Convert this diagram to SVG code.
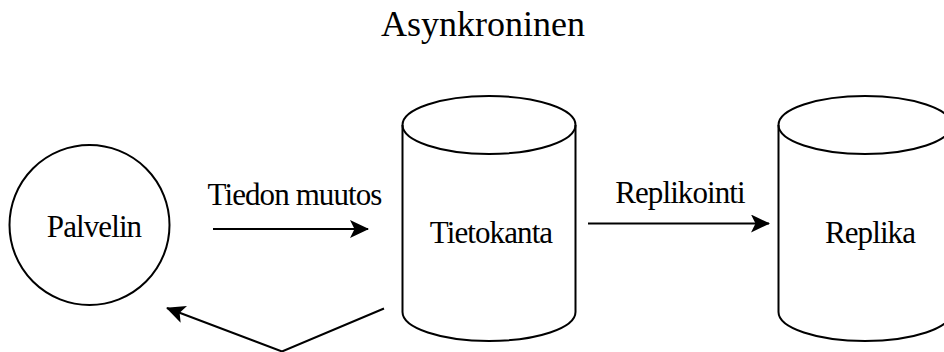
<svg xmlns="http://www.w3.org/2000/svg" width="944" height="352" viewBox="0 0 944 352">
  <style>
    .shape { fill: #ffffff; stroke: #000000; stroke-width: 2; }
    .edge { fill: none; stroke: #000000; stroke-width: 2; }
    .lbl { font-family: "Liberation Serif", "Times New Roman", serif; font-size: 31px; letter-spacing: -0.9px; fill: #000000; }
    .title { font-family: "Liberation Serif", "Times New Roman", serif; font-size: 36px; fill: #000000; }
  </style>
  <defs>
    <marker id="arrow" markerUnits="userSpaceOnUse" viewBox="0 0 19 18" markerWidth="19" markerHeight="18" refX="18" refY="9" orient="auto">
      <path d="M0,0 L19,9 L0,18 L4.5,9 Z" fill="#000000"/>
    </marker>
  </defs>

  <rect width="944" height="352" fill="#ffffff"/>

  <text class="title" x="483" y="36" text-anchor="middle">Asynkroninen</text>

  <g id="palvelin">
    <circle class="shape" cx="89.5" cy="225" r="80"/>
    <text class="lbl" x="94" y="237" text-anchor="middle">Palvelin</text>
  </g>

  <g id="tietokanta">
    <path class="shape" d="M402.5,125 a86.5,29 0 0 1 173,0 v187 a86.5,29 0 0 1 -173,0 Z"/>
    <path class="edge" d="M402.5,125 a86.5,29 0 0 0 173,0"/>
    <text class="lbl" x="491" y="243" text-anchor="middle">Tietokanta</text>
  </g>

  <g id="replika">
    <path class="shape" d="M778.5,125 a86.5,29 0 0 1 173,0 v187 a86.5,29 0 0 1 -173,0 Z"/>
    <path class="edge" d="M778.5,125 a86.5,29 0 0 0 173,0"/>
    <text class="lbl" x="870" y="243" text-anchor="middle">Replika</text>
  </g>

  <g id="connectors">
    <line class="edge" x1="213" y1="229" x2="368" y2="229" marker-end="url(#arrow)"/>
    <text class="lbl" x="294.5" y="205" text-anchor="middle">Tiedon muutos</text>

    <line class="edge" x1="588" y1="223.5" x2="769" y2="223.5" marker-end="url(#arrow)"/>
    <text class="lbl" x="680" y="203" text-anchor="middle">Replikointi</text>

    <polyline class="edge" points="384,308.5 282,351.5 167,308" marker-end="url(#arrow)"/>
  </g>
</svg>
